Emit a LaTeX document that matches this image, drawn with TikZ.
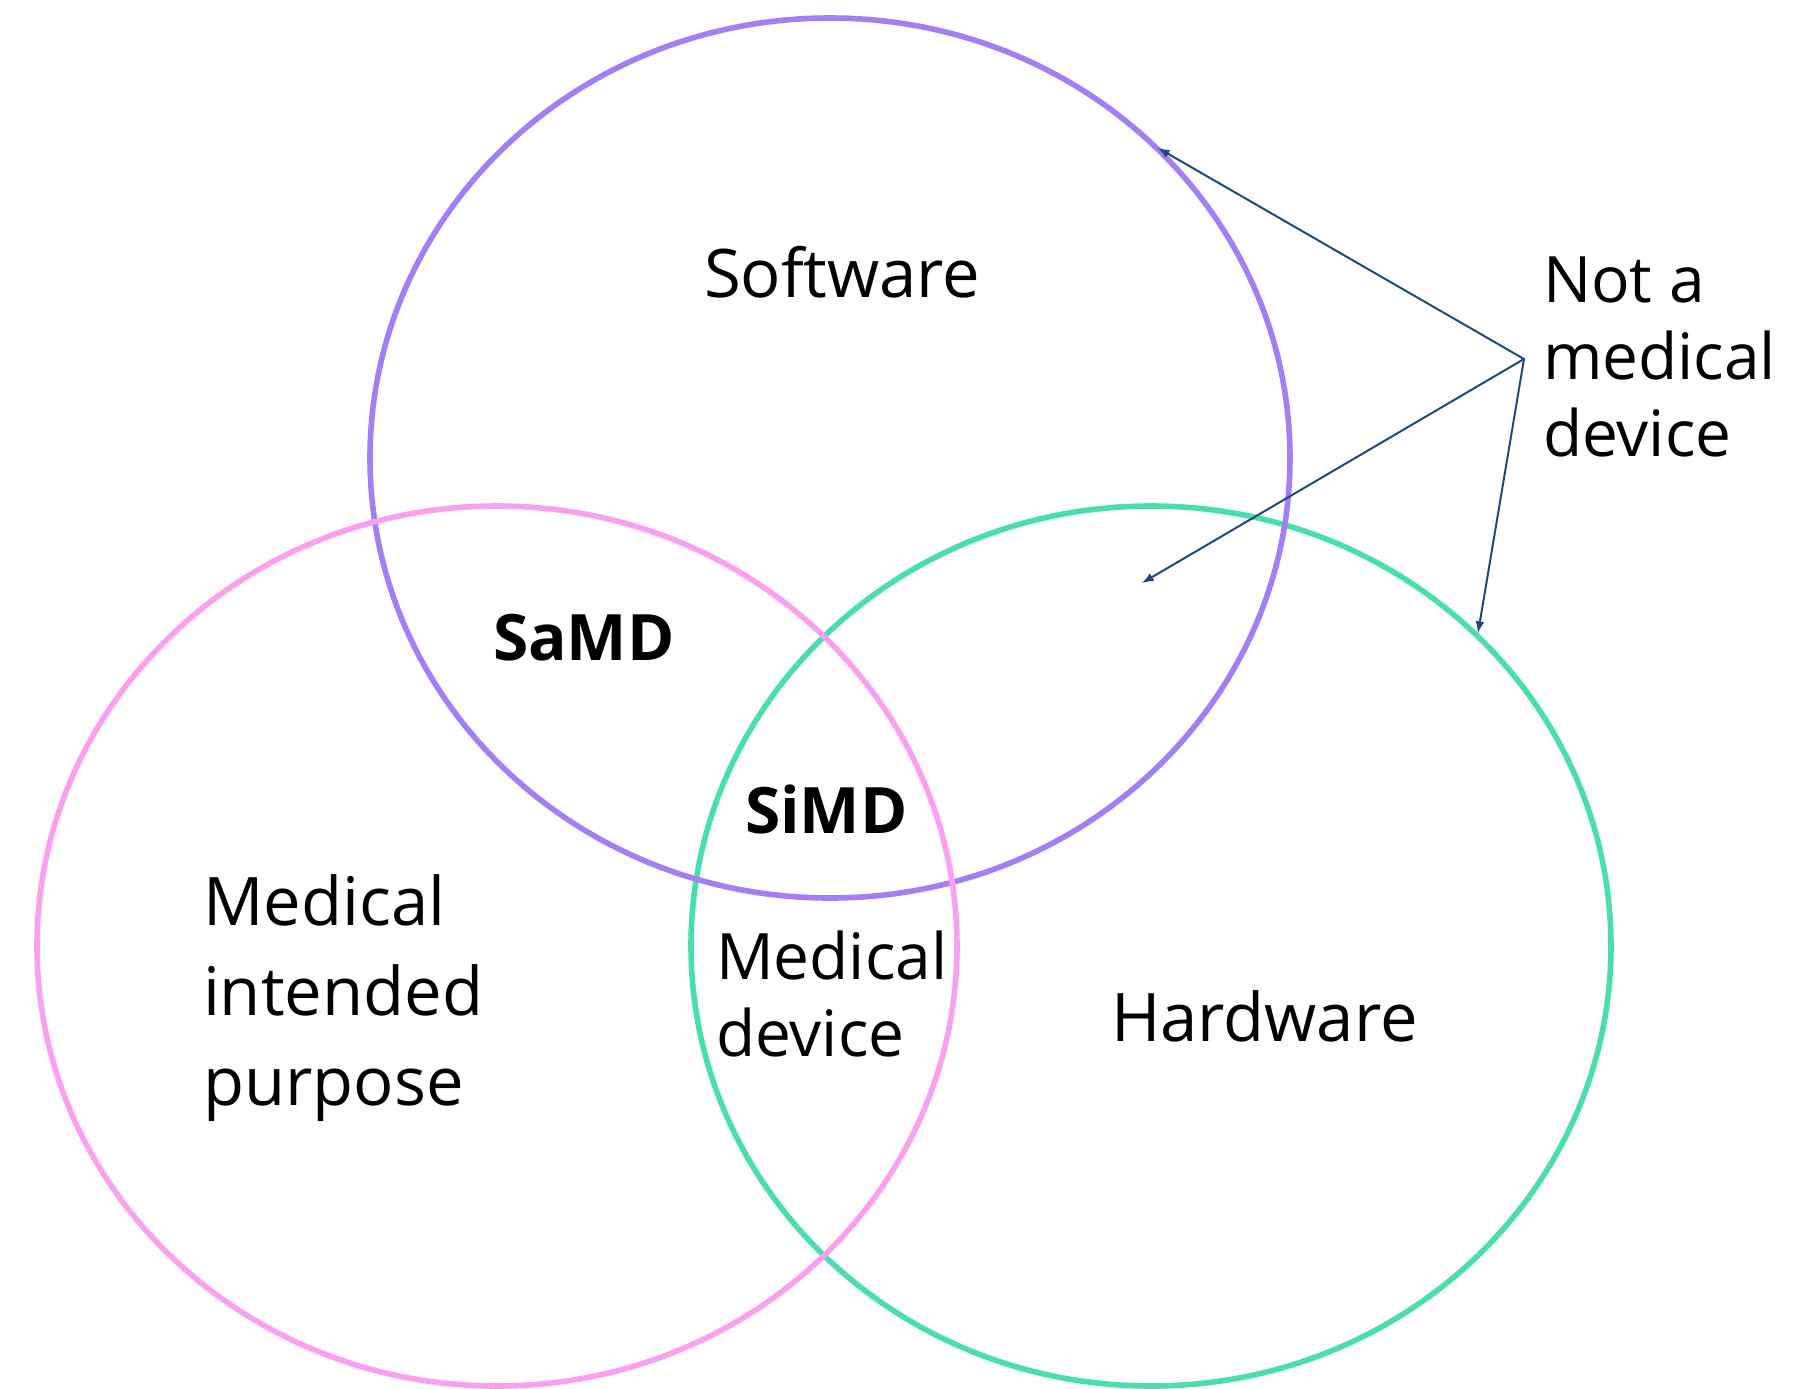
\documentclass[tikz,border=0pt]{standalone}
\usepackage{fontspec}
\setmainfont{Open Sans}
\usetikzlibrary{arrows}

\begin{document}
\begin{tikzpicture}[x=0.5pt,y=-0.5pt,line cap=round]
	\definecolor{col_soft}{RGB}{164,126,245}
	\definecolor{col_med}{RGB}{251,160,240}
	\definecolor{col_hard}{RGB}{74,221,178}
	\definecolor{col_ptr}{RGB}{31,73,125}
	\tikzset{
		setline/.style={line width=2.8pt},
		lbl/.style={inner sep=0, outer sep=0, anchor=base west, align=left,
			font=\fontsize{32pt}{38.5pt}\selectfont},
		biglbl/.style={lbl, font=\fontsize{33.5pt}{45pt}\selectfont},
		tag/.style={lbl, font=\fontsize{32pt}{38.5pt}\selectfont\bfseries},
		ptr/.style={line width=1pt, col_ptr, -latex},
	}
	\useasboundingbox (0,0) rectangle (1811,1388);
	% the three sets
	\draw [setline, col_hard] (1151,946) ellipse (460 and 440);
	\draw [setline, col_soft] (830,458) ellipse (460 and 440);
	\draw [setline, col_med] (497,946) ellipse (460 and 440);
	% set and overlap labels (base = last line)
	\node [biglbl] (software) at (704,297) {Software};
	\node [lbl] (notmd) at (1543,456) {Not a\\medical\\device};
	\node [tag] (samd) at (493,660) {SaMD};
	\node [tag] (simd) at (745,833) {SiMD};
	\node [biglbl] (purpose) at (203,1105) {Medical\\intended\\purpose};
	\node [lbl] (meddev) at (716,1056) {Medical\\device};
	\node [biglbl] (hardware) at (1111,1041) {Hardware};
	% pointers
	\coordinate (hub) at (1524,359);
	\coordinate (softrim) at (1158,148);
	\coordinate (hardin) at (1142,583);
	\coordinate (hardrim) at (1478,633);
	\draw [ptr] (hub) -- (softrim);
	\draw [ptr] (hub) -- (hardin);
	\draw [ptr] (hub) -- (hardrim);
\end{tikzpicture}
\end{document}
